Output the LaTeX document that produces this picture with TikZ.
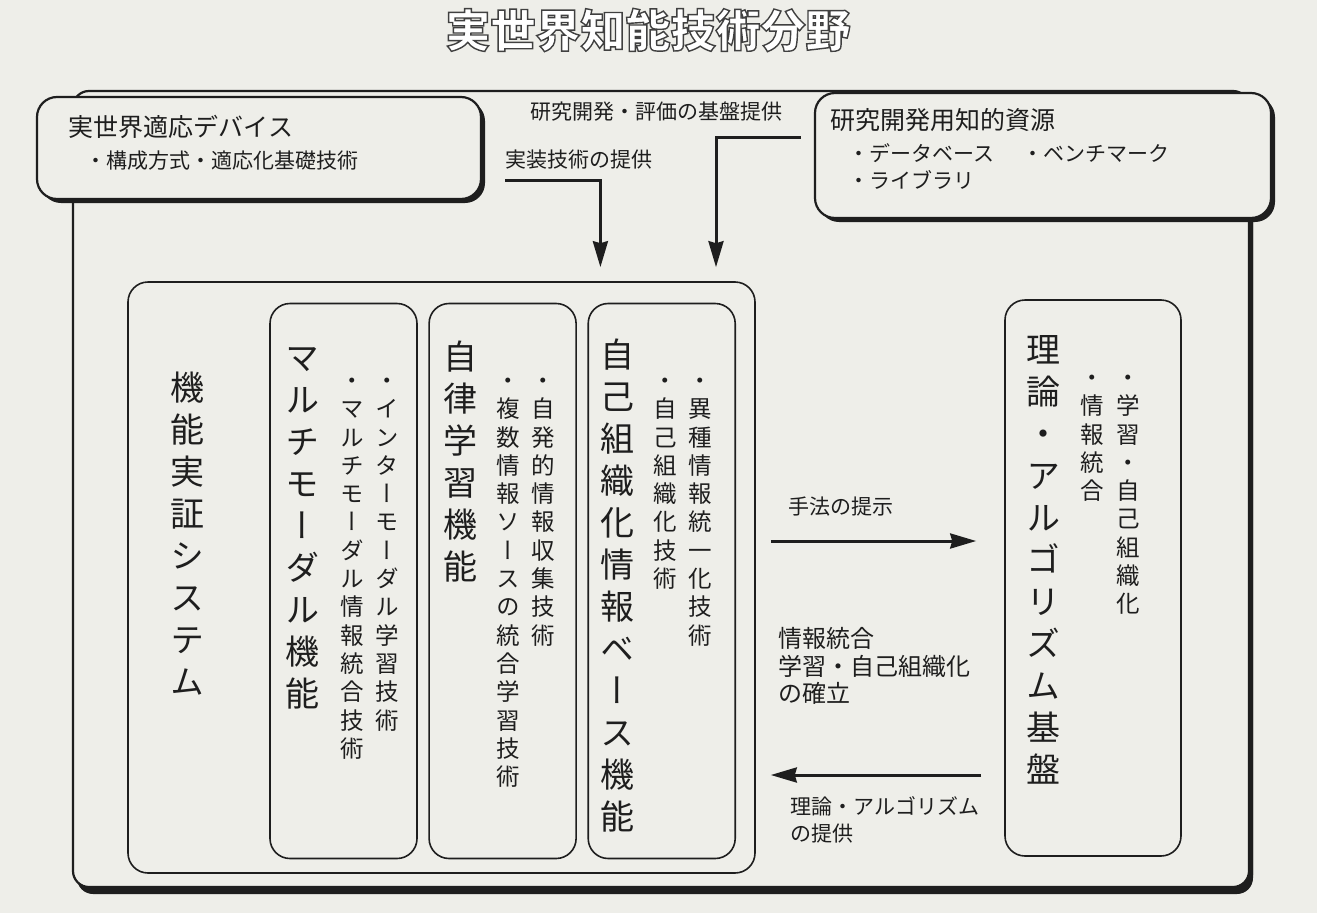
\documentclass[tikz,border=0pt]{standalone}
\usepackage{fontspec}
\setmainfont{Noto Sans CJK JP}
\newfontfamily\tatefont[RawFeature=+vert]{Noto Sans CJK JP}
\usetikzlibrary{calc,positioning,chains,shadows,arrows.meta}
\definecolor{paper}{RGB}{238,238,233}
\definecolor{ink}{RGB}{30,30,30}
\makeatletter
\newcommand\tate[1]{\vbox{\tatefont\lineskiplimit=-\maxdimen
  \@tfor\tate@c:=#1\do{\hbox to 1em{\hss\tate@c\vphantom{国}\hss}}}}
\makeatother

\begin{document}
\begin{tikzpicture}[x=1pt, y=-1pt, color=ink, line width=1.6pt,
    >={Stealth[length=26pt,width=15pt,inset=2pt]},
    box/.style={draw, rounded corners=20pt, fill=paper, inner sep=0pt},
    shade/.style={box, line width=2.2pt, drop shadow={shadow xshift=4pt,
      shadow yshift=-4pt, fill=ink, opacity=1}},
    fn/.style={box, minimum width=147pt, minimum height=555pt, on chain},
    big/.style={inner sep=0pt, anchor=north, font=\fontsize{34}{42}\selectfont},
    small/.style={inner sep=0pt, anchor=north, font=\fontsize{23.5}{28.3}\selectfont},
    txt/.style={inner sep=0pt, anchor=west, align=left, font=\fontsize{21}{27}\selectfont},
    arr/.style={->, line width=3pt},
    start chain, node distance=10.5pt]
  \fill[paper] (0,0) rectangle (1317,913);
  \useasboundingbox (0,0) rectangle (1317,913);

  \node[shade, rounded corners=16pt, minimum width=1176pt, minimum height=796pt,
    drop shadow={shadow xshift=4pt, shadow yshift=-7pt, fill=ink, opacity=1}] (W) at (661,489) {};
  \node[shade, minimum width=444pt, minimum height=102pt] (D) at (259,148) {};
  \node[shade, minimum width=456pt, minimum height=125pt] (R) at (1043,155.5) {};
  \node[txt, font=\fontsize{25}{30}\selectfont] (Dt) at (68,127) {実世界適応デバイス};
  \node[txt] (Di) at (85,161) {・構成方式・適応化基礎技術};
  \node[txt, font=\fontsize{25}{30}\selectfont] (Rt) at (830,120) {研究開発用知的資源};
  \node[txt] (Ri) at (848,166) {・データベース\hspace{1.3em}・ベンチマーク\\・ライブラリ};

  \node[box, minimum width=627pt, minimum height=591pt] (S) at (441.5,577.5) {};
  \node[fn] (M) at (343.5,581) {};
  \node[fn] (L) {};
  \node[fn] (B) {};
  \node[box, minimum width=176pt, minimum height=556pt] (T) at (1093,578) {};

  \node[big] (St) at (187.5,371) {\tate{機能実証システム}};
  \node[big] (Mt) at (302,343) {\tate{マルチモーダル機能}};
  \node[small] (Mi) at (387,370) {\tate{・インターモーダル学習技術}};
  \node[small] (Mj) at (352,370) {\tate{・マルチモーダル情報統合技術}};
  \node[big] (Lt) at (460,340) {\tate{自律学習機能}};
  \node[small] (Li) at (543,370) {\tate{・自発的情報収集技術}};
  \node[small] (Lj) at (508,370) {\tate{・複数情報ソースの統合学習技術}};
  \node[big] (Bt) at (617,338) {\tate{自己組織化情報ベース機能}};
  \node[small] (Bi) at (700,370) {\tate{・異種情報統一化技術}};
  \node[small] (Bj) at (665,370) {\tate{・自己組織化技術}};
  \node[big] (Tt) at (1043,335) {\tate{理論・アルゴリズム基盤}};
  \node[small] (Ti) at (1128,367) {\tate{・学習・自己組織化}};
  \node[small] (Tj) at (1092,367) {\tate{・情報統合}};

  \coordinate (k1) at (0,180);
  \coordinate (k2) at (0,137);
  \coordinate (k3) at (0,541);
  \coordinate (k4) at (0,775);
  \draw[arr, shorten <=23pt, shorten >=14pt] (D.east |- k1) -| ($(B.west |- S.north)+(13,0)$);
  \draw[arr, shorten <=13pt, shorten >=14pt] (R.west |- k2) -| ($(B.east |- S.north)+(-20,0)$);
  \draw[arr, shorten <=15pt, shorten >=28pt] (S.east |- k3) -- (T.west |- k3);
  \draw[arr, shorten <=23pt, shorten >=15pt] (T.west |- k4) -- (S.east |- k4);

  \node[txt] (K1) at (530,112) {研究開発・評価の基盤提供};
  \node[txt] (K2) at (505,160) {実装技術の提供};
  \node[txt] (K3) at (788,507) {手法の提示};
  \node[txt, font=\fontsize{24}{27.5}\selectfont] (K4) at (778,666) {情報統合\\学習・自己組織化\\の確立};
  \node[txt] (K5) at (790,820) {理論・アルゴリズム\\の提供};

  \node[font=\fontsize{45}{50}\selectfont\bfseries] (H) at (648,30)
    {\color{white}\special{pdf:literal direct 2 Tr 1.4 w 0.25 G}実世界知能技術分野\special{pdf:literal direct 0 Tr}};
\end{tikzpicture}
\end{document}
